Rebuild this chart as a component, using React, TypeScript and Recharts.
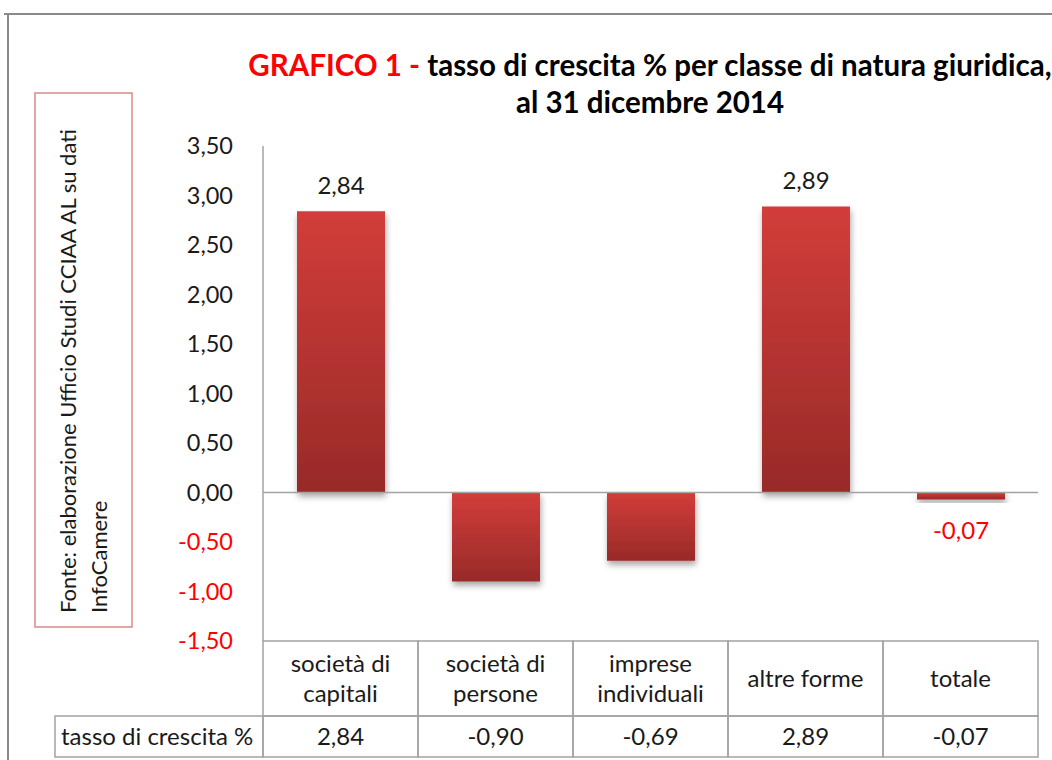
import { BarChart, Bar, XAxis, YAxis, ReferenceLine, LabelList } from "recharts";

const categories = ["società di capitali", "società di persone", "imprese individuali", "altre forme", "totale"];
const categoryLines = [["società di", "capitali"], ["società di", "persone"], ["imprese", "individuali"], ["altre forme"], ["totale"]];
const values = [2.84, -0.9, -0.69, 2.89, -0.07];
const labelShown = [true, false, false, true, true];
const yTicks = [-1.5, -1, -0.5, 0, 0.5, 1, 1.5, 2, 2.5, 3, 3.5];
const rowLabel = "tasso di crescita %";
const titleRed = "GRAFICO 1 - ";
const titleLine1 = "tasso di crescita % per classe di natura giuridica,";
const titleLine2 = "al 31 dicembre 2014";
const sourceLines = ["Fonte:  elaborazione Ufficio Studi CCIAA AL su dati", "InfoCamere"];

const W = 1052;
const H = 760;
const PLOT_L = 263;
const PLOT_R = 1038;
const PLOT_T = 146;
const PLOT_B = 641;
const CAT_H = 75;
const TAB_H = 41;
const BAND = (PLOT_R - PLOT_L) / values.length;
const FONT = "Lato, 'Open Sans', sans-serif";
const GRID = "#a3a3a3";
const RED = "#ff0000";
const TXT = 24;

const data = categories.map((name, i) => ({ name, value: values[i] }));

const fmt = (v: number) => v.toFixed(2).replace(".", ",");

const YTick = ({ x, y, payload }: any) => (
  <text x={x} y={y} dy="0.36em" textAnchor="end" fontSize={23.5} fontFamily={FONT} fill={payload.value < 0 ? RED : "#1a1a1a"}>
    {fmt(payload.value)}
  </text>
);

const CatTick = ({ x, y, index }: any) => {
  const lines = categoryLines[index];
  const lh = 30;
  const start = y + CAT_H / 2 - ((lines.length - 1) * lh) / 2;
  return (
    <g>
      <rect x={x - BAND / 2} y={y} width={BAND} height={CAT_H} fill="none" stroke={GRID} strokeWidth={1.5} />
      {lines.map((l, i) => (
        <text key={i} x={x} y={start + i * lh} dy="0.36em" textAnchor="middle" fontSize={TXT} fontFamily={FONT} fill="#1a1a1a">
          {l}
        </text>
      ))}
    </g>
  );
};

const TabTick = ({ x, y, index }: any) => (
  <g>
    {index === 0 && (
      <g>
        <rect x={55} y={y} width={x - BAND / 2 - 55} height={TAB_H} fill="none" stroke={GRID} strokeWidth={1.5} />
        <text x={61} y={y + TAB_H / 2} dy="0.36em" fontSize={TXT} fontFamily={FONT} fill="#1a1a1a">
          {rowLabel}
        </text>
      </g>
    )}
    <rect x={x - BAND / 2} y={y} width={BAND} height={TAB_H} fill="none" stroke={GRID} strokeWidth={1.5} />
    <text x={x} y={y + TAB_H / 2} dy="0.36em" textAnchor="middle" fontSize={TXT} fontFamily={FONT} fill="#1a1a1a">
      {fmt(values[index])}
    </text>
  </g>
);

const ValueLabel = (props: any) => {
  const { x, y, width, height, index, value } = props;
  if (!labelShown[index]) return null;
  const top = Math.min(y, y + height);
  const bottom = Math.max(y, y + height);
  const neg = value < 0;
  return (
    <text
      x={x + width / 2}
      y={neg ? bottom + 31 : top - 26}
      dy="0.36em"
      textAnchor="middle"
      fontSize={TXT}
      fontFamily={FONT}
      fill={neg ? RED : "#1a1a1a"}
    >
      {fmt(value)}
    </text>
  );
};

export default function App() {
  return (
    <div style={{ position: "absolute", left: 0, top: 0, width: W, height: H, background: "#fff", overflow: "hidden" }}>
      <BarChart
        width={W}
        height={H}
        data={data}
        margin={{ top: PLOT_T, right: W - PLOT_R, bottom: H - PLOT_B - CAT_H - TAB_H, left: 0 }}
        barCategoryGap={0}
      >
        <defs>
          <linearGradient id="barGrad" x1="0" y1="0" x2="0" y2="1">
            <stop offset="0%" stopColor="#d23d3a" />
            <stop offset="100%" stopColor="#982a28" />
          </linearGradient>
          <filter id="shadow" x="-20%" y="-20%" width="140%" height="160%">
            <feDropShadow dx="1" dy="4" stdDeviation="3" floodColor="#000" floodOpacity="0.35" />
          </filter>
        </defs>
        <YAxis
          domain={[-1.5, 3.5]}
          ticks={yTicks}
          width={PLOT_L}
          tick={<YTick />}
          tickLine={false}
          tickSize={0}
          tickMargin={30}
          axisLine={{ stroke: GRID, strokeWidth: 1.5 }}
          interval={0}
        />
        <XAxis
          xAxisId="cat"
          dataKey="name"
          height={CAT_H}
          tick={<CatTick />}
          tickLine={false}
          tickSize={0}
          tickMargin={0}
          axisLine={false}
          interval={0}
        />
        <XAxis
          xAxisId="tab"
          dataKey="name"
          height={TAB_H}
          tick={<TabTick />}
          tickLine={false}
          tickSize={0}
          tickMargin={0}
          axisLine={false}
          interval={0}
        />
        <ReferenceLine xAxisId="cat" y={0} stroke={GRID} strokeWidth={1.5} />
        <Bar xAxisId="cat" dataKey="value" barSize={88} fill="url(#barGrad)" filter="url(#shadow)" isAnimationActive={false}>
          <LabelList dataKey="value" content={<ValueLabel />} />
        </Bar>
      </BarChart>
      <svg width={W} height={H} style={{ position: "absolute", left: 0, top: 0, pointerEvents: "none" }}>
        <line x1={4} y1={14} x2={W} y2={14} stroke="#8a8a8a" strokeWidth={2} />
        <line x1={8} y1={14} x2={8} y2={H} stroke="#8a8a8a" strokeWidth={2} />
        <text x={650} y={76} textAnchor="middle" fontSize={29.5} fontWeight={700} fontFamily={FONT}>
          <tspan fill={RED}>{titleRed}</tspan>
          <tspan fill="#000">{titleLine1}</tspan>
        </text>
        <text x={650} y={113} textAnchor="middle" fontSize={29.5} fontWeight={700} fontFamily={FONT} fill="#000">
          {titleLine2}
        </text>
        <rect x={35} y={93} width={97} height={534} fill="none" stroke="#d88a8a" strokeWidth={1.5} />
        {sourceLines.map((l, i) => (
          <text
            key={i}
            x={0}
            y={0}
            transform={`translate(${76 + i * 31}, 613) rotate(-90)`}
            fontSize={22}
            fontFamily={FONT}
            fill="#1a1a1a"
          >
            {l}
          </text>
        ))}
      </svg>
    </div>
  );
}
